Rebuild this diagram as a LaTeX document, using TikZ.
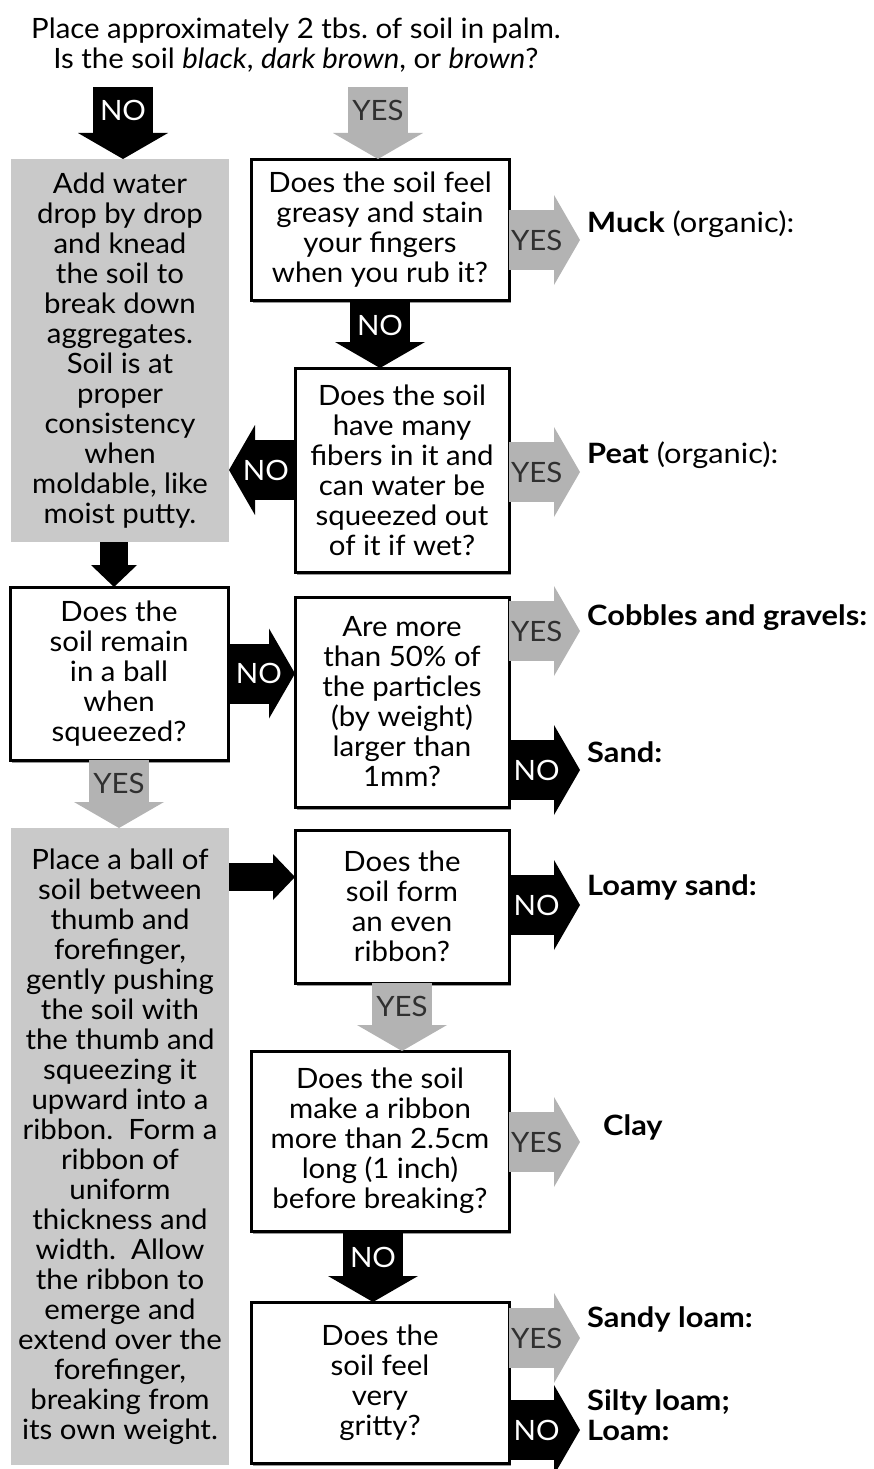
\documentclass[tikz,border=0pt]{standalone}
\usepackage{fontspec}
\setmainfont{Lato}[FakeStretch=1.05]
\newfontfamily\resultfont{Lato}[FakeStretch=1.1]
\usetikzlibrary{arrows.meta,shadows}

\definecolor{boxgray}{HTML}{C9C9C9}
\definecolor{yesgray}{HTML}{B3B3B3}
\definecolor{yesink}{HTML}{303030}

\tikzset{
	txt/.style={font=\fontsize{28}{30}\selectfont, align=center},
	qbox/.style={txt, draw=black, line width=3pt, fill=white, inner sep=0pt, outer sep=0pt,
		drop shadow={shadow xshift=2pt, shadow yshift=-3pt, fill=black!40, opacity=1}},
	gbox/.style={txt, fill=boxgray, inner sep=0pt, outer sep=0pt},
	noarr/.style={draw=black, line width=60pt, -{Triangle[length=26pt,width=90pt,line width=0pt]}},
	yesarr/.style={draw=yesgray, line width=60pt, -{Triangle[length=26pt,width=90pt,line width=0pt]}},
	thinarr/.style={draw=black, line width=28pt, -{Triangle[length=22pt,width=46pt,line width=0pt]}},
	notext/.style={txt, text=white},
	yestext/.style={txt, text=yesink},
	result/.style={font=\resultfont\fontsize{28}{30}\selectfont, anchor=base west, align=left, inner sep=0pt},
}

\begin{document}
\begin{tikzpicture}[x=1pt, y=-1pt]
	\useasboundingbox (0,0) rectangle (874,1469);

	\node[txt] (title) at (296,45)
		{Place approximately 2 tbs.\ of soil in palm.\\
		Is the soil \textit{black}, \textit{dark brown}, or \textit{brown}?};

	% left column
	\node[gbox, minimum width=218pt, minimum height=383pt] (gb1) at (120,350.5)
		{Add water\\drop by drop\\and knead\\the soil to\\break down\\aggregates.\\Soil is at\\proper\\consistency\\when\\moldable, like\\moist putty.};
	\node[qbox, minimum width=218pt, minimum height=173pt] (q3) at (119,673.5)
		{Does the\\soil remain\\in a ball\\when\\squeezed?};
	\node[gbox, minimum width=218pt, minimum height=637pt] (gb2) at (120,1146.5)
		{Place a ball of\\soil between\\thumb and\\forefinger,\\gently pushing\\the soil with\\the thumb and\\squeezing it\\upward into a\\ribbon.\ \ Form a\\ribbon of\\uniform\\thickness and\\width.\ \ Allow\\the ribbon to\\emerge and\\extend over the\\forefinger,\\breaking from\\its own weight.};

	% right column
	\node[qbox, minimum width=258pt, minimum height=141pt] (q1) at (380,229.5)
		{Does the soil feel\\greasy and stain\\your fingers\\when you rub it?};
	\node[qbox, minimum width=214pt, minimum height=204pt] (q2) at (402,470)
		{Does the soil\\have many\\fibers in it and\\can water be\\squeezed out\\of it if wet?};
	\node[qbox, minimum width=214pt, minimum height=210pt] (q4) at (402,702)
		{Are more\\than 50\% of\\the particles\\(by weight)\\larger than\\1mm?};
	\node[qbox, minimum width=214pt, minimum height=153pt] (q5) at (402,906.5)
		{Does the\\soil form\\an even\\ribbon?};
	\node[qbox, minimum width=258pt, minimum height=180pt] (q6) at (380,1141)
		{Does the soil\\make a ribbon\\more than 2.5cm\\long (1 inch)\\before breaking?};
	\node[qbox, minimum width=258pt, minimum height=161pt] (q7) at (380,1382.5)
		{Does the\\soil feel\\very\\gritty?};

	% results
	\node[result] (muck) at (587,232) {\textbf{Muck} (organic):};
	\coordinate (muckpt) at (580,240);
	\node[result] (peat) at (587,463) {\textbf{Peat} (organic):};
	\coordinate (peatpt) at (580,472);
	\node[result] (cobbles) at (587,625) {\textbf{Cobbles and gravels:}};
	\coordinate (cobblespt) at (580,631);
	\node[result] (sand) at (587,762) {\textbf{Sand:}};
	\coordinate (sandpt) at (580,770);
	\node[result] (loamysand) at (587,895) {\textbf{Loamy sand:}};
	\coordinate (loamysandpt) at (580,905);
	\node[result] (clay) at (603,1135) {\textbf{Clay}};
	\coordinate (claypt) at (580,1142);
	\node[result] (sandyloam) at (587,1327) {\textbf{Sandy loam:}};
	\coordinate (sandyloampt) at (580,1338);
	\node[result] (siltyloam) at (587,1440) {\textbf{Silty loam;}\\\textbf{Loam:}};
	\coordinate (siltyloampt) at (580,1430);

	% arrows
	\coordinate (topno) at (123,87);
	\coordinate (topyes) at (378,87);
	\draw[noarr] (topno) -- (topno |- gb1.north) node[notext, pos=.32] {NO};
	\draw[yesarr] (topyes) -- (topyes |- q1.north) node[yestext, pos=.32] {YES};
	\draw[noarr] (q1.south) -- (q1.south |- q2.north) node[notext, pos=.37] {NO};
	\draw[noarr] (q2.west) -- (q2.west -| gb1.east) node[notext, pos=.44] {NO};
	\draw[thinarr] ([xshift=-6pt]gb1.south) -- ([xshift=-6pt]gb1.south |- q3.north);
	\draw[noarr] (q3.east) -- (q3.east -| q4.west) node[notext, pos=.46] {NO};
	\draw[yesarr] (q3.south) -- (q3.south |- gb2.north) node[yestext, pos=.34] {YES};
	\draw[thinarr] ([yshift=29.5pt]q5.west -| gb2.east) -- ([yshift=29.5pt]q5.west);
	\draw[yesarr] (q5.south) -- (q5.south |- q6.north) node[yestext, pos=.34] {YES};
	\draw[noarr] ([xshift=-7pt]q6.south) -- ([xshift=-7pt]q6.south |- q7.north) node[notext, pos=.37] {NO};

	\draw[yesarr] (q1.east |- muckpt) -- (muckpt) node[yestext, pos=.39] {YES};
	\draw[yesarr] (q2.east |- peatpt) -- (peatpt) node[yestext, pos=.39] {YES};
	\draw[yesarr] (q4.east |- cobblespt) -- (cobblespt) node[yestext, pos=.39] {YES};
	\draw[noarr] (q4.east |- sandpt) -- (sandpt) node[notext, pos=.39] {NO};
	\draw[noarr] (q5.east |- loamysandpt) -- (loamysandpt) node[notext, pos=.39] {NO};
	\draw[yesarr] (q6.east |- claypt) -- (claypt) node[yestext, pos=.39] {YES};
	\draw[yesarr] (q7.east |- sandyloampt) -- (sandyloampt) node[yestext, pos=.39] {YES};
	\draw[noarr] (q7.east |- siltyloampt) -- (siltyloampt) node[notext, pos=.39] {NO};
\end{tikzpicture}
\end{document}
